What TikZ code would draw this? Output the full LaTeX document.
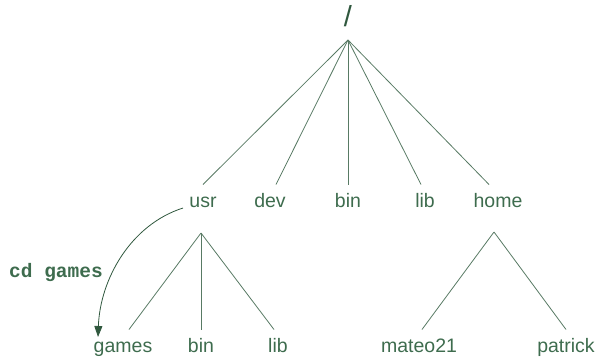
\documentclass[tikz,border=0pt]{standalone}
\usepackage{fontspec}
\setmainfont{Liberation Sans}
\newfontfamily\monofont{Liberation Mono}
\usetikzlibrary{arrows.meta}
\definecolor{txtgreen}{RGB}{62,108,78}
\definecolor{linegreen}{RGB}{88,122,100}
\definecolor{arrowgreen}{RGB}{48,88,62}
\begin{document}
\begin{tikzpicture}[x=1pt,y=-1pt,
  dir/.style={anchor=base,inner sep=0pt,outer xsep=0pt,outer ysep=8.5pt,
    text height=14pt,text depth=4pt,text=txtgreen,
    font=\fontsize{19.5}{23}\selectfont},
  branch/.style={draw=linegreen,line width=0.8pt},
  cdarrow/.style={draw=arrowgreen,line width=0.8pt,-{Triangle[length=11pt,width=8pt]}}]
\useasboundingbox (0,0) rectangle (597,359);
% root
\node[text=arrowgreen,inner sep=0pt,font=\fontsize{29}{32}\selectfont] (root) at (348,16.5) {/};
\coordinate (rootj) at (348,40);
% level 1
\node[dir] (usr) at (203,207) {usr};
\node[dir] (dev) at (270,207) {dev};
\node[dir] (bin) at (348,207) {bin};
\node[dir] (lib) at (425,207) {lib};
\node[dir] (home) at (498,207) {home};
% level 2
\coordinate (usrj) at (201,233);
\coordinate (homej) at (494,232);
\node[dir] (games) at (123,352) {games};
\node[dir] (ubin) at (201,352) {bin};
\node[dir] (ulib) at (278,352) {lib};
\node[dir] (mateo) at (419,352) {mateo21};
\node[dir] (patrick) at (566,352) {patrick};
% label
\node[anchor=base,inner sep=0pt,text=txtgreen,font=\monofont\bfseries\fontsize{19.5}{23}\selectfont] (cd) at (56,277) {cd games};
% branches
\draw[branch] (rootj) -- (usr.north);
\draw[branch] (rootj) -- ([xshift=6pt]dev.north);
\draw[branch] (rootj) -- (bin.north);
\draw[branch] (rootj) -- ([xshift=-4pt]lib.north);
\draw[branch] (rootj) -- ([xshift=-9pt]home.north);
\draw[branch] (usrj) -- ([xshift=6pt]games.north);
\draw[branch] (usrj) -- (ubin.north);
\draw[branch] (usrj) -- ([xshift=-4pt]ulib.north);
\draw[branch] (homej) -- ([xshift=3pt]mateo.north);
\draw[branch] (homej) -- (patrick.north);
% cd arrow
\draw[cdarrow] ([xshift=-20pt,yshift=-6pt]usr.center) .. controls (130,225) and (100,280) .. ([xshift=-25pt,yshift=-7.5pt]games.north);
\end{tikzpicture}
\end{document}
